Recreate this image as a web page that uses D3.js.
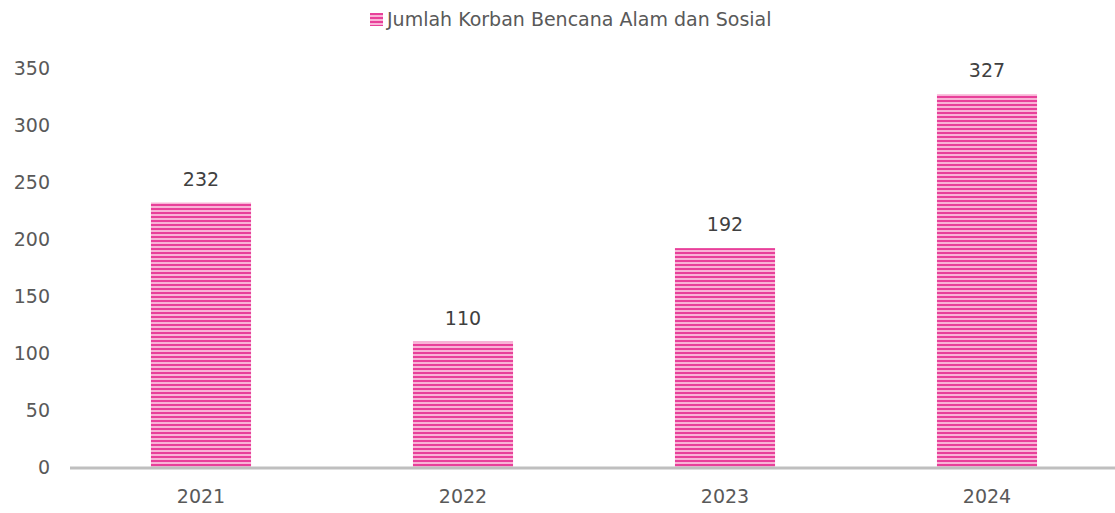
<!DOCTYPE html>
<html>
<head>
<meta charset="utf-8">
<script src="https://cdn.jsdelivr.net/npm/d3@7"></script>
<style>
  body { margin: 0; background: #fff; }
  svg { font-family: "DejaVu Sans", sans-serif; }
</style>
</head>
<body>
<div id="chart"></div>
<script>
const years = ["2021", "2022", "2023", "2024"];
const korban = [232, 110, 192, 327];
const yTicks = [0, 50, 100, 150, 200, 250, 300, 350];
const seriesName = "Jumlah Korban Bencana Alam dan Sosial";

const width = 1115;
const height = 513;

const svg = d3.select("#chart").append("svg")
    .attr("width", width)
    .attr("height", height);

// striped fill like the original
const pat = svg.append("defs").append("pattern")
    .attr("id", "stripes")
    .attr("patternUnits", "userSpaceOnUse")
    .attr("width", 8)
    .attr("height", 4);
pat.append("rect").attr("width", 8).attr("height", 4).attr("fill", "#f9b3d6");
pat.append("rect").attr("width", 8).attr("height", 2).attr("fill", "#e8409a");

const x = d3.scaleBand()
    .domain(years)
    .range([70, 1118])
    .paddingInner(0.618)
    .paddingOuter(0.309);

const y = d3.scaleLinear()
    .domain([0, 350])
    .range([467, 68]);

// y labels (no axis line)
svg.append("g")
    .selectAll("text")
    .data(yTicks)
    .join("text")
    .attr("x", 50)
    .attr("y", d => y(d))
    .attr("dy", "0.36em")
    .attr("text-anchor", "end")
    .attr("font-size", "19px")
    .attr("fill", "#595959")
    .text(d => d);

// bars
svg.append("g")
    .selectAll("rect")
    .data(korban)
    .join("rect")
    .attr("x", (d, i) => x(years[i]))
    .attr("y", d => y(d))
    .attr("width", x.bandwidth())
    .attr("height", d => y(0) - y(d))
    .attr("fill", "url(#stripes)");

// value labels
svg.append("g")
    .selectAll("text")
    .data(korban)
    .join("text")
    .attr("x", (d, i) => x(years[i]) + x.bandwidth() / 2)
    .attr("y", d => y(d) - 17)
    .attr("text-anchor", "middle")
    .attr("font-size", "19px")
    .attr("fill", "#404040")
    .text(d => d);

// baseline
svg.append("line")
    .attr("x1", 70).attr("x2", width)
    .attr("y1", y(0) + 1).attr("y2", y(0) + 1)
    .attr("stroke", "#bfbfbf")
    .attr("stroke-width", 3);

// x labels
svg.append("g")
    .selectAll("text")
    .data(years)
    .join("text")
    .attr("x", d => x(d) + x.bandwidth() / 2)
    .attr("y", 503)
    .attr("text-anchor", "middle")
    .attr("font-size", "19px")
    .attr("fill", "#595959")
    .text(d => d);

// legend
const legend = svg.append("g").attr("transform", "translate(370,13)");
legend.append("rect")
    .attr("width", 13).attr("height", 13)
    .attr("fill", "url(#stripes)");
legend.append("text")
    .attr("x", 17)
    .attr("y", 13)
    .attr("font-size", "19px")
    .attr("fill", "#595959")
    .text(seriesName);
</script>
</body>
</html>
